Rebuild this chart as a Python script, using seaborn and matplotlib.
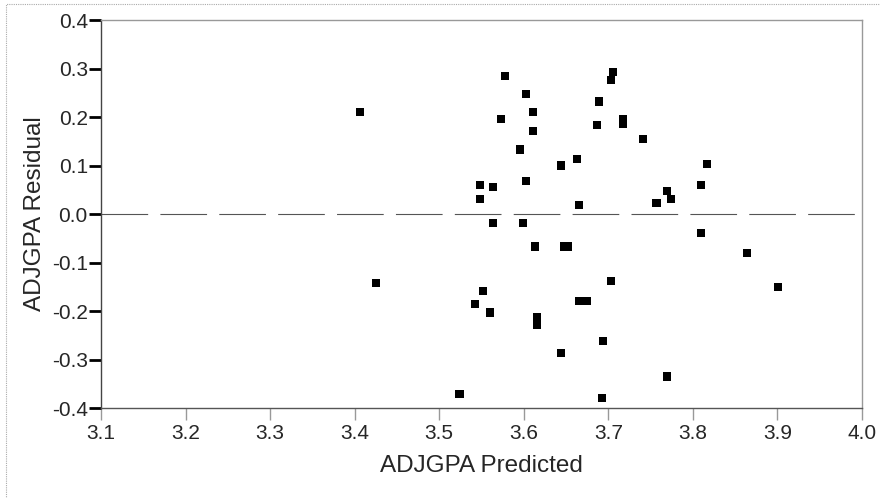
import matplotlib
matplotlib.use("Agg")
import matplotlib.pyplot as plt
import seaborn as sns
import pandas as pd
from matplotlib.patches import Rectangle

predicted = [3.406, 3.425, 3.524, 3.542, 3.548, 3.548, 3.552, 3.560, 3.564, 3.564,
             3.573, 3.578, 3.596, 3.599, 3.603, 3.603, 3.611, 3.611, 3.613, 3.616,
             3.616, 3.644, 3.644, 3.648, 3.652, 3.663, 3.665, 3.665, 3.675, 3.687,
             3.689, 3.692, 3.694, 3.703, 3.706, 3.703, 3.717, 3.717, 3.741, 3.757,
             3.769, 3.769, 3.774, 3.810, 3.810, 3.817, 3.864, 3.901]
residual = [0.211, -0.142, -0.372, -0.186, 0.060, 0.031, -0.158, -0.203, 0.056, -0.018,
            0.195, 0.285, 0.133, -0.019, 0.248, 0.068, 0.211, 0.171, -0.067, -0.212,
            -0.228, 0.100, -0.286, -0.067, -0.067, 0.113, 0.019, -0.179, -0.179, 0.183,
            0.232, -0.380, -0.261, 0.277, 0.293, -0.138, 0.196, 0.186, 0.154, 0.023,
            0.047, -0.335, 0.031, 0.059, -0.039, 0.104, -0.080, -0.150]
x_ticks = [3.1, 3.2, 3.3, 3.4, 3.5, 3.6, 3.7, 3.8, 3.9, 4.0]
y_ticks = [0.4, 0.3, 0.2, 0.1, 0.0, -0.1, -0.2, -0.3, -0.4]

df = pd.DataFrame({"ADJGPA Predicted": predicted, "ADJGPA Residual": residual})

sns.set_style("white")
plt.rcParams['font.family'] = ['Liberation Sans', 'DejaVu Sans']

fig = plt.figure(figsize=(8.8, 4.98), dpi=100)
fig.patches.append(Rectangle((6 / 880, -0.1), 1.2, 1.1 - 4 / 498,
                             transform=fig.transFigure, fill=False,
                             edgecolor='#aaaaaa', linestyle=(0, (1, 1)), linewidth=0.8))
ax = fig.add_axes([101 / 880, 1 - 408 / 498, (862 - 101) / 880, (408 - 20) / 498])

ax.axhline(0, color='#555555', linewidth=0.8, linestyle=(0, (42, 11)), zorder=1)
sns.scatterplot(data=df, x="ADJGPA Predicted", y="ADJGPA Residual", ax=ax,
                marker='s', s=34, color='black', edgecolor='none', zorder=3)

ax.set_xlim(3.1, 4.0)
ax.set_ylim(-0.4, 0.4)
ax.set_xticks(x_ticks)
ax.set_xticklabels([f"{v:.1f}" for v in x_ticks])
ax.set_yticks(y_ticks)
ax.set_yticklabels([f"{v:.1f}" for v in y_ticks])

for side in ['top', 'right']:
    ax.spines[side].set_color('#999999')
    ax.spines[side].set_linewidth(1.0)
ax.spines['left'].set_color('#444444')
ax.spines['bottom'].set_color('#555555')
ax.spines['left'].set_linewidth(1.0)
ax.spines['bottom'].set_linewidth(1.0)

ax.tick_params(axis='x', direction='out', length=8.5, width=1.0, color='#999999',
               labelsize=15, pad=3, bottom=True)
ax.tick_params(axis='y', direction='out', length=8.5, width=2.0, color='black',
               labelsize=15, pad=1, left=True)

ax.set_xlabel("ADJGPA Predicted", fontsize=17.5, labelpad=9)
ax.set_ylabel("ADJGPA Residual", fontsize=17.5, labelpad=4)

fig.savefig("out.png", dpi=100)
